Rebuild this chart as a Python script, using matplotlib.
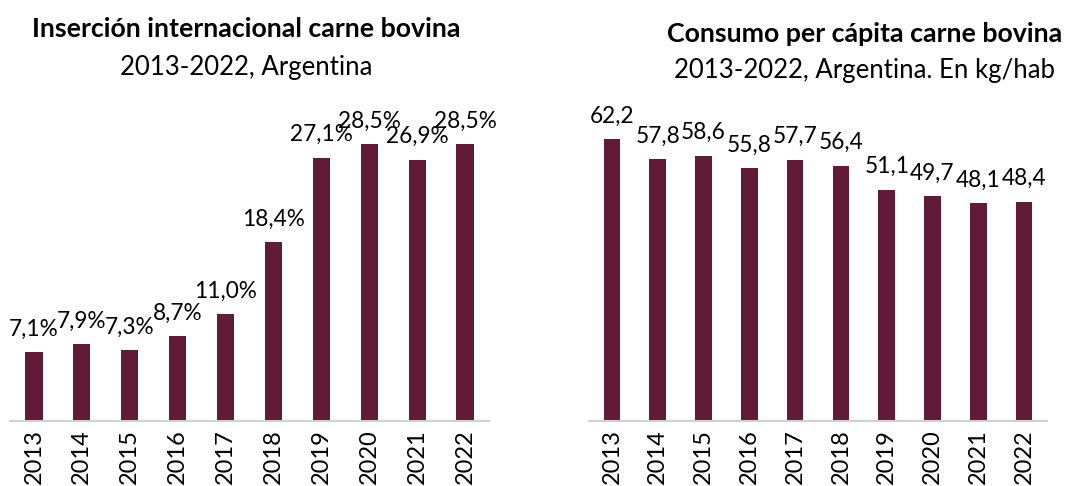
import matplotlib
matplotlib.use("Agg")
import matplotlib.pyplot as plt

# data
years = ["2013", "2014", "2015", "2016", "2017", "2018", "2019", "2020", "2021", "2022"]
insercion = [7.1, 7.9, 7.3, 8.7, 11.0, 18.4, 27.1, 28.5, 26.9, 28.5]
consumo = [62.2, 57.8, 58.6, 55.8, 57.7, 56.4, 51.1, 49.7, 48.1, 48.4]

bar_color = "#611B36"
plt.rcParams['font.family'] = ['Lato', 'DejaVu Sans']


def fmt_comma(v, suffix=""):
    return f"{v:.1f}".replace(".", ",") + suffix


def draw_panel(ax, values, ymax, suffix):
    x = range(len(values))
    ax.bar(x, values, width=0.36, color=bar_color)
    ax.set_xlim(-0.5, 9.5)
    ax.set_ylim(0, ymax)
    ax.set_xticks(list(x))
    ax.set_xticklabels(years, rotation=90, fontsize=17)
    ax.tick_params(axis="x", length=0, pad=6)
    ax.set_yticks([])
    for side in ["top", "right", "left"]:
        ax.spines[side].set_visible(False)
    ax.spines["bottom"].set_color("#d0d0d0")
    ax.spines["bottom"].set_linewidth(1.5)
    for i, v in enumerate(values):
        ax.annotate(fmt_comma(v, suffix), (i, v), xytext=(0, 9),
                    textcoords="offset points", ha="center", va="bottom",
                    fontsize=16.3)


fig = plt.figure(figsize=(10.7, 4.86), dpi=100)

ax1 = fig.add_axes([10 / 1070, 65 / 486, 479 / 1070, 321 / 486])
draw_panel(ax1, insercion, 321 / 9.72, "%")

ax2 = fig.add_axes([589 / 1070, 65 / 486, 458 / 1070, 321 / 486])
draw_panel(ax2, consumo, 321 / 4.53, "")

# titles
fig.text(246 / 1070, 1 - 37 / 486, "Inserción internacional carne bovina",
         ha="center", va="baseline", fontsize=19.3, fontweight="bold")
fig.text(246 / 1070, 1 - 75 / 486, "2013-2022, Argentina",
         ha="center", va="baseline", fontsize=18.5)
fig.text(865 / 1070, 1 - 42 / 486, "Consumo per cápita carne bovina",
         ha="center", va="baseline", fontsize=19.3, fontweight="bold")
fig.text(865 / 1070, 1 - 78 / 486, "2013-2022, Argentina. En kg/hab",
         ha="center", va="baseline", fontsize=18.5)

fig.savefig("out.png", dpi=100)
